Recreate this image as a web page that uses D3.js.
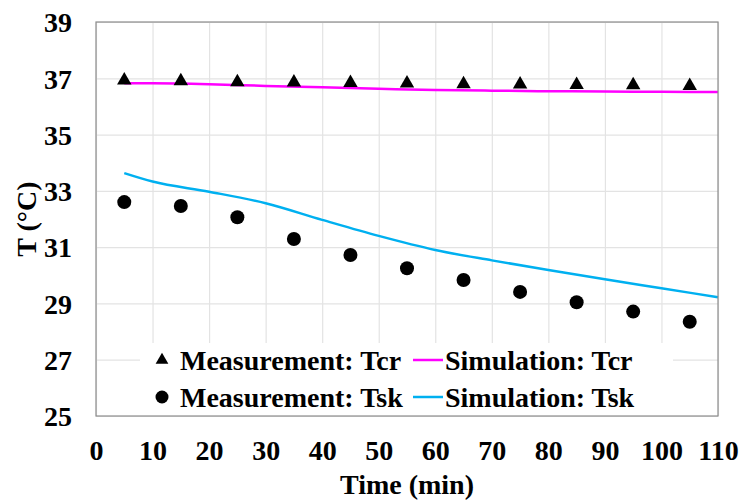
<!DOCTYPE html>
<html>
<head>
<meta charset="utf-8">
<script src="https://cdn.jsdelivr.net/npm/d3@7"></script>
<style>
  body { margin: 0; background: #fff; }
  text { font-family: "Liberation Serif", "Times New Roman", serif; font-weight: bold; fill: #000; }
</style>
</head>
<body>
<div id="chart"></div>
<script>
const margin = { LEFT: 96, RIGHT: 24, TOP: 22, BOTTOM: 86 };
const width = 742 - margin.LEFT - margin.RIGHT;
const height = 502 - margin.TOP - margin.BOTTOM;

// measurement times and values
const measTime = [5, 15, 25, 35, 45, 55, 65, 75, 85, 95, 105];
const measTcr = [36.96, 36.94, 36.90, 36.89, 36.87, 36.86, 36.83, 36.82, 36.80, 36.79, 36.77];
const measTsk = [32.60, 32.46, 32.06, 31.29, 30.72, 30.25, 29.83, 29.41, 29.04, 28.71, 28.35];

// simulation curves
const simTime = [5, 10, 20, 30, 40, 50, 60, 70, 80, 90, 100, 110];
const simTcr = [36.82, 36.82, 36.79, 36.73, 36.68, 36.63, 36.58, 36.56, 36.54, 36.53, 36.52, 36.51];
const simTsk = [33.63, 33.33, 32.97, 32.56, 31.97, 31.40, 30.90, 30.53, 30.19, 29.86, 29.54, 29.22];

const xTicks = [0, 10, 20, 30, 40, 50, 60, 70, 80, 90, 100, 110];
const yTicks = [25, 27, 29, 31, 33, 35, 37, 39];

const svg = d3.select("#chart").append("svg")
  .attr("width", 742)
  .attr("height", 502);

const g = svg.append("g")
  .attr("transform", `translate(${margin.LEFT}, ${margin.TOP})`);

const x = d3.scaleLinear().domain([0, 110]).range([0, width]);
const y = d3.scaleLinear().domain([25, 39]).range([height, 0]);

// gridlines
g.append("g")
  .attr("class", "grid")
  .call(d3.axisLeft(y).tickValues(yTicks).tickSize(-width).tickFormat(""))
  .call(a => a.select(".domain").remove())
  .call(a => a.selectAll("line").attr("stroke", "#e3e3e3").attr("stroke-width", 1.2));

g.append("g")
  .attr("class", "grid")
  .attr("transform", `translate(0, ${height})`)
  .call(d3.axisBottom(x).tickValues(xTicks).tickSize(-height).tickFormat(""))
  .call(a => a.select(".domain").remove())
  .call(a => a.selectAll("line").attr("stroke", "#e3e3e3").attr("stroke-width", 1.2));

// tick labels
const yAxis = g.append("g")
  .call(d3.axisLeft(y).tickValues(yTicks).tickSize(0).tickPadding(24))
  .call(a => a.select(".domain").remove());
yAxis.selectAll("text").attr("font-size", "28px").attr("dy", "0.35em");

const xAxis = g.append("g")
  .attr("transform", `translate(0, ${height})`)
  .call(d3.axisBottom(x).tickValues(xTicks).tickSize(0).tickPadding(0))
  .call(a => a.select(".domain").remove());
xAxis.selectAll("text").attr("font-size", "28px").attr("y", 44).attr("dy", "0");

// lines
const line = d3.line()
  .x(d => x(d[0]))
  .y(d => y(d[1]))
  .curve(d3.curveMonotoneX);

g.append("path")
  .datum(simTime.map((t, i) => [t, simTcr[i]]))
  .attr("fill", "none")
  .attr("stroke", "#ff00ff")
  .attr("stroke-width", 2.5)
  .attr("d", line);

g.append("path")
  .datum(simTime.map((t, i) => [t, simTsk[i]]))
  .attr("fill", "none")
  .attr("stroke", "#00b0f0")
  .attr("stroke-width", 2.5)
  .attr("d", line);

// markers
const tri = d3.symbol().type(d3.symbolTriangle).size(90);
g.selectAll(".tcr")
  .data(measTime.map((t, i) => [t, measTcr[i]]))
  .enter().append("path")
  .attr("class", "tcr")
  .attr("transform", d => `translate(${x(d[0])}, ${y(d[1]) + 1})`)
  .attr("d", tri)
  .attr("fill", "#000");

g.selectAll(".tsk")
  .data(measTime.map((t, i) => [t, measTsk[i]]))
  .enter().append("circle")
  .attr("class", "tsk")
  .attr("cx", d => x(d[0]))
  .attr("cy", d => y(d[1]))
  .attr("r", 7)
  .attr("fill", "#000");

// legend
const legend = g.append("g")
  .attr("transform", `translate(44, ${height - 73})`);

legend.append("rect")
  .attr("width", 533)
  .attr("height", 73)
  .attr("fill", "#fff");

const legendItems = [
  { label: "Measurement: Tcr", type: "tri", col: 0, row: 0 },
  { label: "Simulation: Tcr", type: "line", color: "#ff00ff", col: 1, row: 0 },
  { label: "Measurement: Tsk", type: "dot", col: 0, row: 1 },
  { label: "Simulation: Tsk", type: "line", color: "#00b0f0", col: 1, row: 1 }
];

legendItems.forEach(item => {
  const row = legend.append("g")
    .attr("transform", `translate(${item.col === 0 ? 22 : 273}, ${17 + item.row * 37})`);
  if (item.type === "tri") {
    row.append("path").attr("d", d3.symbol().type(d3.symbolTriangle).size(70)).attr("fill", "#000");
  } else if (item.type === "dot") {
    row.append("circle").attr("r", 6.5).attr("fill", "#000");
  } else {
    row.append("line")
      .attr("x1", 0).attr("x2", 30)
      .attr("stroke", item.color)
      .attr("stroke-width", 2.5);
  }
  row.append("text")
    .attr("x", item.type === "line" ? 32 : 18)
    .attr("dy", "0.35em")
    .attr("font-size", "28px")
    .text(item.label);
});

// frame
g.append("rect")
  .attr("width", width)
  .attr("height", height)
  .attr("fill", "none")
  .attr("stroke", "#8c8c8c")
  .attr("stroke-width", 1.2);

// axis titles
g.append("text")
  .attr("x", width / 2)
  .attr("y", height + 78)
  .attr("text-anchor", "middle")
  .attr("font-size", "28px")
  .text("Time (min)");

g.append("text")
  .attr("transform", "rotate(-90)")
  .attr("x", -height / 2)
  .attr("y", -60)
  .attr("text-anchor", "middle")
  .attr("font-size", "28px")
  .text("T (°C)");
</script>
</body>
</html>
